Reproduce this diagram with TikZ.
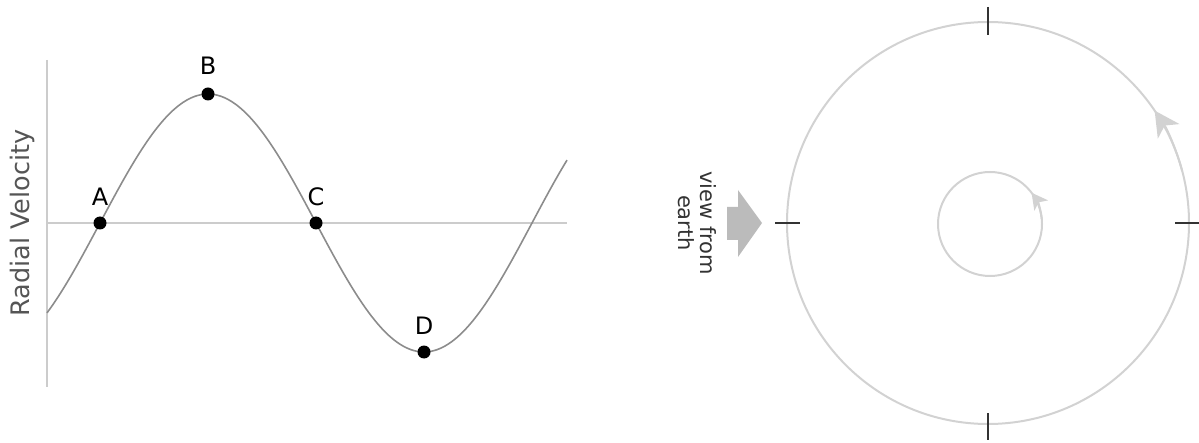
\documentclass[tikz,border=0pt]{standalone}
\usepackage{fontspec}
\setmainfont{DejaVu Sans}
\usetikzlibrary{arrows.meta}
\definecolor{axisgray}{HTML}{CCCCCC}
\definecolor{curvegray}{HTML}{8C8C8C}
\definecolor{orbitgray}{HTML}{D2D2D2}
\definecolor{tickgray}{HTML}{333333}
\definecolor{bigarrow}{HTML}{BBBBBB}
\definecolor{labelgray}{HTML}{555555}
\tikzset{
  axisline/.style={draw=axisgray, line width=2pt},
  curve/.style={draw=curvegray, line width=1.6pt},
  dot/.style={circle, fill=black, inner sep=0pt, minimum size=13pt},
  ptlabel/.style={font=\fontsize{24}{28}\selectfont, text=black, inner sep=0pt},
  orbit/.style={draw=orbitgray, line width=2pt},
  tickmark/.style={draw=tickgray, line width=2pt},
}
\begin{document}
\begin{tikzpicture}[x=1pt,y=1pt]
\useasboundingbox (0,0) rectangle (1199,442);
% left plot axes
\coordinate (vtop) at (47,382);
\coordinate (vbot) at (47,55);
\coordinate (hleft) at (47,219);
\coordinate (hright) at (567,219);
\draw[axisline] (vtop) -- (vbot);
\draw[axisline] (hleft) -- (hright);
\draw[curve] plot[domain=47:567, samples=150, smooth] (\x, {219+129*sin((\x-100)*0.833333)});
\node[dot] (A) at (100,219) {};
\node[dot] (B) at (208,348) {};
\node[dot] (C) at (316,219) {};
\node[dot] (D) at (424,90) {};
\node[ptlabel] (lA) at (100,245) {A};
\node[ptlabel] (lB) at (208,376) {B};
\node[ptlabel] (lC) at (316,245) {C};
\node[ptlabel] (lD) at (424,116) {D};
\node[rotate=90, font=\fontsize{25.5}{30}\selectfont, text=labelgray, inner sep=0pt] (rv) at (22,219) {Radial Velocity};
% view from earth arrow
\fill[bigarrow] (727,235) -- (738,235) -- (738,252) -- (762,219) -- (738,185) -- (738,202) -- (727,202) -- cycle;
\node[rotate=-90, align=center, font=\fontsize{21}{22}\selectfont, text=tickgray, inner sep=0pt] (vfe) at (697,219) {view from\\earth};
% orbits
\coordinate (O) at (988,219);
\draw[orbit] (O) circle[radius=201];
\draw[orbit, -{Stealth[length=25pt,width=26pt,inset=7pt]}] (O) ++(15:201) arc[start angle=15, end angle=34, radius=201];
\coordinate (o) at (990,218);
\draw[orbit] (o) circle[radius=52];
\draw[orbit, -{Stealth[length=16pt,width=17pt,inset=4pt]}] (o) ++(5:52) arc[start angle=5, end angle=37, radius=52];
% ticks
\draw[tickmark] (988,435) -- (988,407);
\draw[tickmark] (988,29) -- (988,2);
\draw[tickmark] (775,219) -- (800,219);
\draw[tickmark] (1175,219) -- (1199,219);
\end{tikzpicture}
\end{document}
